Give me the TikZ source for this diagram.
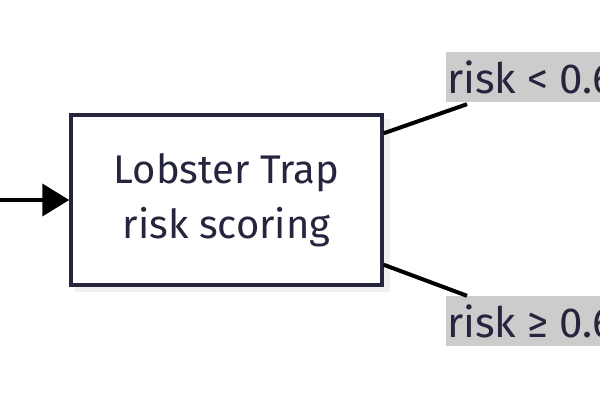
\documentclass[tikz,border=0pt]{standalone}
\usepackage{fontspec}
\setmainfont{Fira Sans}
\usetikzlibrary{calc,arrows.meta}
\definecolor{navy}{HTML}{25253D}
\definecolor{lblgray}{HTML}{CCCCCC}
\tikzset{
  procbox/.style={draw=navy, line width=3.5pt, fill=white, minimum width=311pt, minimum height=170pt, align=center, text=navy, font=\fontsize{40}{55}\selectfont},
  lbl/.style={fill=lblgray, inner xsep=1pt, inner ysep=0pt, minimum height=50pt, anchor=west, text=navy, font=\fontsize{42}{46}\selectfont},
  conn/.style={line width=4pt, black},
  flow/.style={line width=4pt, black, -{Triangle[length=27pt,width=32pt]}}
}
\begin{document}
\begin{tikzpicture}[x=1pt,y=-1pt]
\useasboundingbox (0,0) rectangle (600,400);
\clip (0,0) rectangle (600,400);
\fill[white] (0,0) rectangle (600,400);
\fill[gray!12] (75,119) rectangle (390,292);
\node[procbox] (box) at (226.5,200) {Lobster Trap\\risk scoring};
\coordinate (start) at (0,200);
\draw[flow] (start) -- (box.west);
\node[lbl] (lt) at (446,77) {risk < 0.6};
\node[lbl] (lb) at (446,321) {risk ≥ 0.6};
\draw[conn] ($(box.north east)+(0,20)$) -- ($(lt.south west)+(21,2)$);
\draw[conn] ($(box.south east)+(0,-22)$) -- ($(lb.north west)+(21,0)$);
\end{tikzpicture}
\end{document}
